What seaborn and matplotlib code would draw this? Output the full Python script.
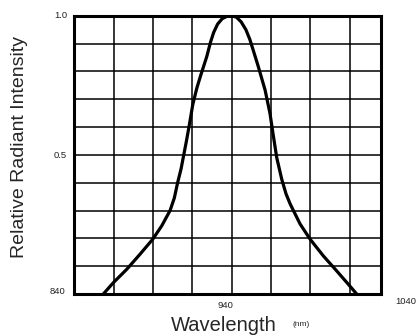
import matplotlib
matplotlib.use("Agg")
import matplotlib.pyplot as plt
import pandas as pd
import seaborn as sns

# Spectral curve (nm, relative intensity)
wavelength = [858.4, 864.8, 873.3, 881.7, 889.8, 895.5, 900.8, 903.5, 905.6,
              907.8, 909.5, 911.2, 912.8, 915.2, 917.8, 920.5, 924.1, 926.5,
              928.5, 931.0, 934.0, 937.0, 940.0, 943.0, 946.0, 949.0, 951.5,
              954.0, 956.9, 961.2, 964.3, 966.4, 968.6, 971.8, 974.5, 977.1,
              983.4, 989.8, 998.2, 1006.7, 1014.1, 1019.4]
intensity = [0.0, 0.041, 0.089, 0.143, 0.197, 0.245, 0.300, 0.345, 0.400,
             0.450, 0.500, 0.550, 0.600, 0.680, 0.740, 0.790, 0.853, 0.905,
             0.940, 0.970, 0.990, 0.998, 1.0, 0.995, 0.978, 0.950, 0.915,
             0.870, 0.817, 0.733, 0.649, 0.570, 0.490, 0.412, 0.360, 0.324,
             0.252, 0.197, 0.137, 0.083, 0.035, 0.0]

x_grid = [865, 890, 915, 940, 965, 990, 1015]
y_grid = [0.1, 0.2, 0.3, 0.4, 0.5, 0.6, 0.7, 0.8, 0.9]

sns.set_style("white")
plt.rcParams['font.family'] = ['Liberation Sans', 'DejaVu Sans']

df = pd.DataFrame({'wavelength': wavelength, 'intensity': intensity})

fig = plt.figure(figsize=(4.18, 3.36), dpi=100)
ax = fig.add_axes([0.178, 0.125, 0.734, 0.828])

sns.lineplot(data=df, x='wavelength', y='intensity', ax=ax,
             color='black', linewidth=2.3, sort=False)

ax.set_xlim(840, 1035)
ax.set_ylim(0, 1.0)
ax.set_xticks(x_grid)
ax.set_yticks(y_grid)
ax.set_xticklabels([])
ax.set_yticklabels([])
ax.tick_params(length=0)
ax.grid(True, color='black', linewidth=1.1)
for s in ax.spines.values():
    s.set_visible(True)
    s.set_color('black')
    s.set_linewidth(2.2)
ax.set_xlabel('')
ax.set_ylabel('')

# Axis value labels, placed as in the reference
tick_kw = dict(fontsize=6.8, color='#222222', ha='center', va='center')
fig.text(60.5 / 418, 1 - 16 / 336, '1.0', **tick_kw)
fig.text(60.5 / 418, 1 - 155 / 336, '0.5', **tick_kw)
fig.text(58 / 418, 1 - 291 / 336, '840', **tick_kw)
fig.text(225.8 / 418, 1 - 306 / 336, '940', **tick_kw)
fig.text(405.8 / 418, 1 - 301 / 336, '1040', **tick_kw)

fig.text(224 / 418, 1 - 331 / 336, 'Wavelength', ha='center', va='baseline',
         fontsize=14.5)
fig.text(300.8 / 418, 1 - 325 / 336, '(nm)', ha='center', va='center',
         fontsize=6)
fig.text(19.5 / 418, 1 - 146.5 / 336, 'Relative Radiant Intensity',
         ha='center', va='center', rotation=90, fontsize=14)

fig.savefig('out.png', dpi=100)
